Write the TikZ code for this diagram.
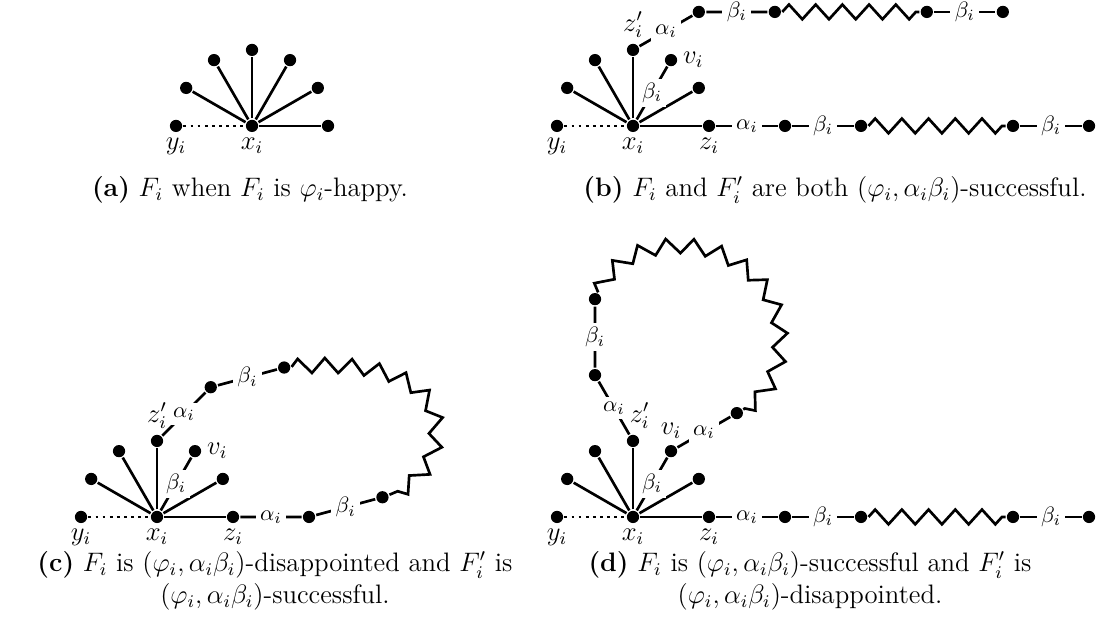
\documentclass[12pt,tikz,border=0pt]{standalone}
\usepackage{amsmath,amssymb}
\usetikzlibrary{decorations.pathmorphing}

\tikzset{
  vtx/.style={circle, fill=black, inner sep=0pt, minimum size=5.5pt},
  elab/.style={fill=white, inner sep=2pt, font=\footnotesize},
  zz/.style={decorate, decoration={zigzag, segment length=12pt, amplitude=3.3pt}},
  subcap/.style={align=center},
  every label/.style={inner sep=1.5pt},
}

% x_i with y_i and the three plain leaves
\newcommand{\drawfan}[1]{%
  \node[vtx, label=below:$x_i$] (#1x) at (0,0) {};
  \node[vtx, label=below:$y_i$] (#1y) at (180:1) {};
  \foreach \a in {30,120,150} {
    \node[vtx] (#1l\a) at (\a:1) {};
    \draw (#1x) -- (#1l\a);
  }
  \draw[dotted] (#1y) -- (#1x);
}

\begin{document}
\begin{tikzpicture}[x=1.2cm, y=1.2cm, very thick]
  \useasboundingbox (0,0) rectangle (14.421,8.368);

  % (a)
  \begin{scope}[shift={(3.316,6.711)}]
    \drawfan{a}
    \foreach \a in {0,60,90} {
      \node[vtx] (al\a) at (\a:1) {};
      \draw (ax) -- (al\a);
    }
  \end{scope}
  \node[subcap] (capa) at (3.289,5.868) {\textbf{(a)} $F_i$ when $F_i$ is $\varphi_i$-happy.};

  % (b)
  \begin{scope}[shift={(8.329,6.711)}]
    \drawfan{b}
    \node[vtx, label=below:$z_i$] (bz) at (0:1) {};
    \node[vtx, label=right:$v_i$] (bv) at (60:1) {};
    \node[vtx, label=above:$z_i'$] (bzp) at (90:1) {};
    \draw (bx) -- (bz);
    \draw (bx) -- node[elab] (bbv) {$\beta_i$} (bv);
    \draw (bx) -- (bzp);
    % upper chain
    \node[vtx] (bt1) at (0.866,1.5) {};
    \node[vtx] (bt2) at (1.866,1.5) {};
    \node[vtx] (bt3) at (3.866,1.5) {};
    \node[vtx] (bt4) at (4.866,1.5) {};
    \draw (bzp) -- node[elab] (bat) {$\alpha_i$} (bt1) -- node[elab] (bbt) {$\beta_i$} (bt2);
    \draw[zz] (bt2) -- (bt3);
    \draw (bt3) -- node[elab] (bbt2) {$\beta_i$} (bt4);
    % lower chain
    \node[vtx] (bb1) at (2,0) {};
    \node[vtx] (bb2) at (3,0) {};
    \node[vtx] (bb3) at (5,0) {};
    \node[vtx] (bb4) at (6,0) {};
    \draw (bz) -- node[elab] (bab) {$\alpha_i$} (bb1) -- node[elab] (bbb) {$\beta_i$} (bb2);
    \draw[zz] (bb2) -- (bb3);
    \draw (bb3) -- node[elab] (bbb2) {$\beta_i$} (bb4);
  \end{scope}
  \node[subcap] (capb) at (10.987,5.868) {\textbf{(b)} $F_i$ and $F_i'$ are both $(\varphi_i,\alpha_i\beta_i)$-successful.};

  % (c)
  \begin{scope}[shift={(2.066,1.566)}]
    \drawfan{c}
    \node[vtx, label=below:$z_i$] (cz) at (0:1) {};
    \node[vtx, label=right:$v_i$] (cv) at (60:1) {};
    \node[vtx, label=above:$z_i'$] (czp) at (90:1) {};
    \draw (cx) -- (cz);
    \draw (cx) -- node[elab] (cbv) {$\beta_i$} (cv);
    \draw (cx) -- (czp);
    \node[vtx] (ct1) at (0.707,1.707) {};
    \node[vtx] (ct2) at (1.673,1.966) {};
    \node[vtx] (cb1) at (2,0) {};
    \node[vtx] (cb2) at (2.966,0.259) {};
    \coordinate (cright) at (3.671,1.145);
    \draw (czp) -- node[elab] (cat) {$\alpha_i$} (ct1) -- node[elab] (cbt) {$\beta_i$} (ct2);
    \draw (cz) -- node[elab] (cab) {$\alpha_i$} (cb1) -- node[elab] (cbb) {$\beta_i$} (cb2);
    \draw[zz] (ct2) to[out=5,in=90] (cright) to[out=-90,in=20] (cb2);
  \end{scope}
  \node[subcap] (capc) at (3.618,0.724) {\textbf{(c)} $F_i$ is $(\varphi_i,\alpha_i\beta_i)$-disappointed and $F_i'$ is\\ $(\varphi_i,\alpha_i\beta_i)$-successful.};

  % (d)
  \begin{scope}[shift={(8.329,1.566)}]
    \drawfan{d}
    \node[vtx, label=below:$z_i$] (dz) at (0:1) {};
    \node[vtx, label=above:$v_i$] (dv) at (60:1) {};
    \node[vtx, label={[xshift=3pt]above:$z_i'$}] (dzp) at (90:1) {};
    \draw (dx) -- (dz);
    \draw (dx) -- node[elab] (dbv) {$\beta_i$} (dv);
    \draw (dx) -- (dzp);
    \node[vtx] (dt1) at (-0.5,1.866) {};
    \node[vtx] (dt2) at (-0.5,2.866) {};
    \node[vtx] (dv1) at (1.366,1.366) {};
    \coordinate (dtop) at (0.618,3.566);
    \coordinate (dright) at (1.934,2.355);
    \draw (dzp) -- node[elab] (dat) {$\alpha_i$} (dt1) -- node[elab] (dbt) {$\beta_i$} (dt2);
    \draw (dv) -- node[elab] (dav) {$\alpha_i$} (dv1);
    \draw[zz] (dt2) to[out=65,in=180] (dtop) to[out=0,in=90] (dright) to[out=-90,in=30] (dv1);
    % lower chain
    \node[vtx] (db1) at (2,0) {};
    \node[vtx] (db2) at (3,0) {};
    \node[vtx] (db3) at (5,0) {};
    \node[vtx] (db4) at (6,0) {};
    \draw (dz) -- node[elab] (dab) {$\alpha_i$} (db1) -- node[elab] (dbb) {$\beta_i$} (db2);
    \draw[zz] (db2) -- (db3);
    \draw (db3) -- node[elab] (dbb2) {$\beta_i$} (db4);
  \end{scope}
  \node[subcap] (capd) at (10.658,0.724) {\textbf{(d)} $F_i$ is $(\varphi_i,\alpha_i\beta_i)$-successful and $F_i'$ is\\ $(\varphi_i,\alpha_i\beta_i)$-disappointed.};
\end{tikzpicture}
\end{document}
